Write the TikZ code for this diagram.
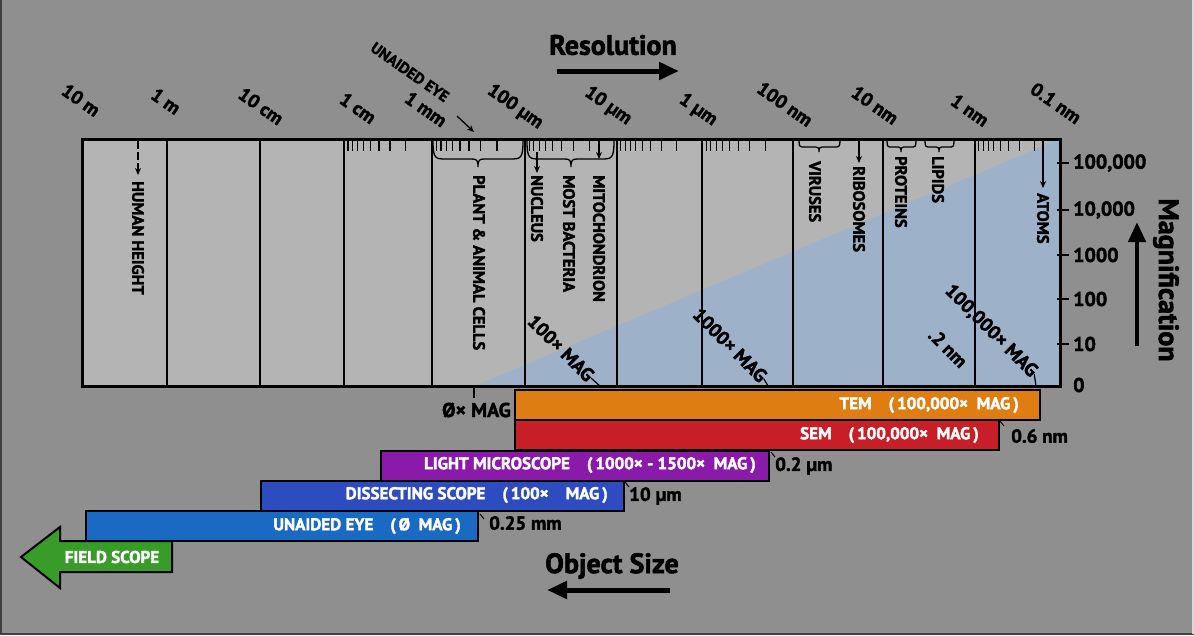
\documentclass[tikz,border=0pt]{standalone}
\usepackage{fontspec}
\setmainfont{PT Sans}[BoldFeatures={FakeBold=2}]
\usetikzlibrary{arrows.meta}
\definecolor{bgc}{RGB}{143,143,143}
\definecolor{boxc}{RGB}{180,180,180}
\definecolor{magc}{RGB}{157,177,201}
\definecolor{temc}{RGB}{222,125,18}
\definecolor{semc}{RGB}{200,30,40}
\definecolor{lmc}{RGB}{138,26,170}
\definecolor{dsc}{RGB}{45,76,192}
\definecolor{uec}{RGB}{26,106,196}
\definecolor{fsc}{RGB}{56,156,40}
\newcommand{\curlybr}[6]{%
\draw[line width=1.3pt] (#1,141) .. controls (#1,#4) and ({#1+0.2*#6},#4) .. ({#1+#6},#4) -- ({#3-0.5*#6},#4) .. controls ({#3-0.1*#6},#4) and (#3,{#4+1}) .. (#3,#5) .. controls (#3,{#4+1}) and ({#3+0.1*#6},#4) .. ({#3+0.5*#6},#4) -- ({#2-#6},#4) .. controls ({#2-0.2*#6},#4) and (#2,#4) .. (#2,141);}
\tikzset{
 scl/.style={font=\fontsize{19}{22}\selectfont\bfseries, rotate=-35, inner sep=0pt},
 vlab/.style={font=\fontsize{16.5}{18}\selectfont\bfseries, rotate=-90, anchor=west, inner sep=0pt},
 maglab/.style={font=\fontsize{20}{22}\selectfont\bfseries, anchor=west, inner sep=0pt},
 diag/.style={font=\fontsize{19}{22}\selectfont\bfseries, rotate=-45, inner sep=0pt},
 sizelab/.style={font=\fontsize{19}{22}\selectfont\bfseries, anchor=west, inner sep=0pt},
 title/.style={font=\fontsize{28}{32}\selectfont\bfseries, inner sep=0pt},
 bar/.style={draw=black, line width=2pt, anchor=north west, inner sep=0pt, minimum height=30pt},
 bartxt/.style={text=white, font=\fontsize{17}{20}\selectfont\bfseries, anchor=east, inner sep=0pt},
 ptr/.style={line width=1.3pt, -{Stealth[length=7pt,width=6pt]}},
 bigarrow/.style={line width=5pt, -{Triangle[length=20pt,width=17pt]}},
 thin/.style={line width=1.2pt},
}
\begin{document}
\begin{tikzpicture}[x=1pt,y=-1pt]
\fill[bgc] (0,0) rectangle (1194,635);
\path[use as bounding box] (0,0) rectangle (1194,635);
\draw[line width=2pt, black!75] (1,0) -- (1,634) -- (1194,634);
\draw[line width=2pt, black!15] (1193,0) -- (1193,634);
% main box
\fill[boxc] (82,139) rectangle (1060,386);
\fill[magc] (475,386) -- (1060,139) -- (1060,386) -- cycle;
\foreach \x in {167,260,344,432,525,617,702,793,883,975}
  \draw[line width=1.4pt] (\x,139) -- (\x,386);
\foreach \a/\b in {344/432,432/525,525/617,617/702,702/793,975/1060}
  \foreach \v in {2,...,9}
    \draw[line width=1.1pt] ({\a+(\b-\a)*log10(10/\v)},140) -- ++(0,11);
\draw[line width=3pt] (82,139) rectangle (1060,386);
% braces
\curlybr{433}{523}{478}{159}{167}{13}
\curlybr{527}{614}{571}{159}{167}{13}
\curlybr{799}{840}{819}{147}{152}{6}
\curlybr{887}{916}{901}{147}{152}{5}
\curlybr{925}{954}{939}{147}{152}{5}
% pointers
\coordinate (hh1) at (138,141); \coordinate (hh2) at (138,175);
\draw[ptr, dash pattern=on 8pt off 3pt] (hh1) -- (hh2);
\coordinate (nu1) at (537,152); \coordinate (nu2) at (537,173);
\draw[ptr] (nu1) -- (nu2);
\coordinate (mi1) at (599,141); \coordinate (mi2) at (599,159);
\draw[ptr] (mi1) -- (mi2);
\coordinate (ri1) at (859,141); \coordinate (ri2) at (859,163);
\draw[ptr] (ri1) -- (ri2);
\coordinate (at1) at (1043,141); \coordinate (at2) at (1043,188);
\draw[ptr] (at1) -- (at2);
% vertical labels
\node[vlab] (human) at (138,181) {HUMAN HEIGHT};
\node[vlab] (cells) at (479,175) {PLANT \& ANIMAL CELLS};
\node[vlab] (nucleus) at (537,175) {NUCLEUS};
\node[vlab] (bacteria) at (569,175) {MOST BACTERIA};
\node[vlab] (mito) at (599,175) {MITOCHONDRION};
\node[vlab] (viruses) at (815,161) {VIRUSES};
\node[vlab] (ribo) at (859,166) {RIBOSOMES};
\node[vlab] (proteins) at (901,156) {PROTEINS};
\node[vlab] (lipids) at (938,156) {LIPIDS};
\node[vlab] (atoms) at (1043,193) {ATOMS};
% scale labels
\node[scl] (s1) at (81,100) {10 m};
\node[scl] (s2) at (166,101) {1 m};
\node[scl] (s3) at (261,106) {10 cm};
\node[scl] (s4) at (358,108) {1 cm};
\node[scl] (s5) at (426,109) {1 mm};
\node[scl] (s6) at (515,107) {100 µm};
\node[scl] (s7) at (608,106) {10 µm};
\node[scl] (s8) at (698,110) {1 µm};
\node[scl] (s9) at (785,104) {100 nm};
\node[scl] (s10) at (875,105) {10 nm};
\node[scl] (s11) at (970,110) {1 nm};
\node[scl] (s12) at (1056,103) {0.1 nm};
\node[scl, font=\fontsize{15.5}{17}\selectfont\bfseries] (ueye) at (410,72) {UNAIDED EYE};
\coordinate (ue1) at (457,116); \coordinate (ue2) at (474,132);
\draw[ptr] (ue1) -- (ue2);
% titles
\node[title] (res) at (613,45) {Resolution};
\coordinate (ra) at (557,71); \coordinate (rb) at (679,71);
\draw[bigarrow] (ra) -- (rb);
\node[title] (objsize) at (612,566) {Object Size};
\coordinate (oa) at (670,590); \coordinate (ob) at (547,590);
\draw[bigarrow] (oa) -- (ob);
\node[title, rotate=-90] (magn) at (1166,280) {Magnification};
\coordinate (ma) at (1137,346); \coordinate (mb) at (1137,222);
\draw[bigarrow, line width=4.5pt] (ma) -- (mb);
% magnification axis
\foreach \yy/\lab [count=\i] in {163/{100,000},210/{10,000},255/1000,299/100,344/10}{
  \draw[line width=1.5pt] (1057,\yy) -- (1069,\yy);
  \node[maglab] (mg\i) at (1073,\yy) {\lab};
}
\node[maglab] (mg0) at (1073,385) {0};
% diagonal mag labels
\node[diag] (d100) at (561,348) {100× MAG};
\coordinate (d100e) at (600,386);
\draw[thin] (d100.east) -- (d100e);
\node[diag] (d1000) at (730,345) {1000× MAG};
\coordinate (d1000e) at (768,386);
\draw[thin] (d1000.east) -- (d1000e);
\node[diag] (d1e5) at (991,331) {100,000× MAG};
\coordinate (d1e5e) at (1036,386);
\draw[thin] (d1e5.east) -- (d1e5e);
\node[diag] (d2nm) at (948,348) {.2 nm};
% zero mag
\coordinate (z1) at (474,387); \coordinate (z2) at (474,398);
\draw[thin] (z1) -- (z2);
\node[sizelab, anchor=east, font=\fontsize{20}{22}\selectfont\bfseries] (zero) at (511,410) {Ø× MAG};
% bars
\node[bar, fill=temc, minimum width=525pt] (tem) at (514,389) {};
\node[bartxt] (temt) at (1019,405) {TEM\quad(\,100,000×\ \ MAG\,)};
\node[bar, fill=semc, minimum width=484pt] (sem) at (514,419) {};
\node[bartxt] (semt) at (979,435) {SEM\quad(\,100,000×\ \ MAG\,)};
\node[bar, fill=lmc, minimum width=388pt] (lm) at (380,450) {};
\node[bartxt] (lmt) at (756,465) {LIGHT MICROSCOPE\quad(\,1000× - 1500×\ \ MAG\,)};
\node[bar, fill=dsc, minimum width=363pt] (ds) at (260,480) {};
\node[bartxt] (dst) at (608,495) {DISSECTING SCOPE\quad(\,100×\quad MAG\,)};
\node[bar, fill=uec, minimum width=392pt] (ue) at (85,510) {};
\node[bartxt] (uet) at (461,526) {UNAIDED EYE\quad(\,Ø\ \ MAG\,)};
\draw[line width=2pt, fill=fsc] (172,541) -- (60,541) -- (60,527) -- (21,557) -- (60,588) -- (60,572) -- (172,572) -- cycle;
\node[bartxt, anchor=center] (fst) at (112,557) {FIELD SCOPE};
% size labels
\node[sizelab] (l06) at (1011,436) {0.6 nm};
\node[sizelab] (l02) at (775,466) {0.2 µm};
\node[sizelab] (l10) at (629,496) {10 µm};
\node[sizelab] (l025) at (489,523) {0.25 mm};
\foreach \px/\py in {1000/421, 771/452, 625/482, 480/514}
  \draw[line width=1pt] (\px,\py) -- ++(4,5);
\end{tikzpicture}
\end{document}
